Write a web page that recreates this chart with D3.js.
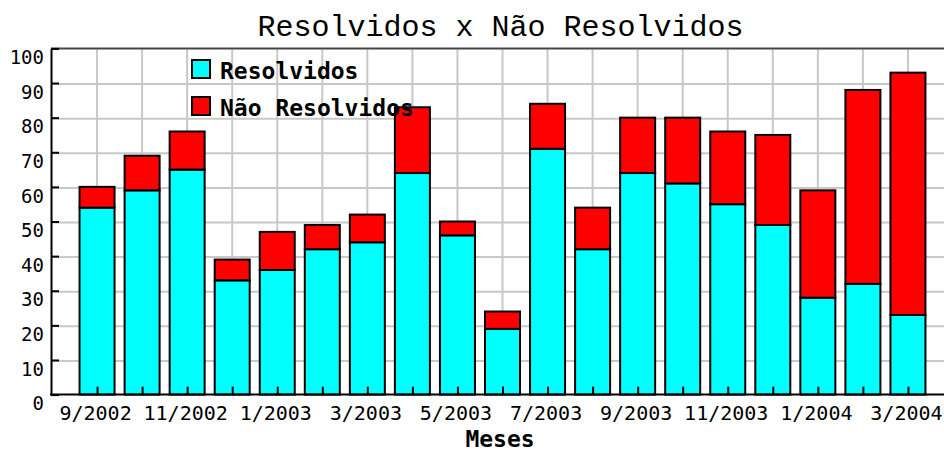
<!DOCTYPE html>
<html>
<head>
<meta charset="utf-8">
<script src="https://cdn.jsdelivr.net/npm/d3@7"></script>
<style>
  body { margin: 0; background: #fff; }
  svg { display: block; }
  text { font-family: 'DejaVu Sans Mono', monospace; fill: #000; }
</style>
</head>
<body>
<svg id="chart" width="944" height="451"></svg>
<script>
const meses = ['9/2002', '10/2002', '11/2002', '12/2002', '1/2003', '2/2003', '3/2003', '4/2003',
  '5/2003', '6/2003', '7/2003', '8/2003', '9/2003', '10/2003', '11/2003', '12/2003',
  '1/2004', '2/2004', '3/2004']
const resolvidos = [54, 59, 65, 33, 36, 42, 44, 64, 46, 19, 71, 42, 64, 61, 55, 49, 28, 32, 23]
const naoResolvidos = [6, 10, 11, 6, 11, 7, 8, 19, 4, 5, 13, 12, 16, 19, 21, 26, 31, 56, 70]
const yTicks = [0, 10, 20, 30, 40, 50, 60, 70, 80, 90, 100]

const legenda = [
  { label: 'Resolvidos', cor: '#00ffff' },
  { label: 'Não Resolvidos', cor: '#ff0000' }
]

const plot = { left: 51, right: 953, top: 49.4, bottom: 395.6 }

const svg = d3.select('#chart')

const x = d3.scalePoint()
  .domain(meses)
  .range([plot.left + 1, plot.right])
  .padding(1)

const y = d3.scaleLinear()
  .domain([0, 100])
  .range([plot.bottom, plot.top])

const barW = 35

// grid
svg.append('g')
  .selectAll('line')
  .data(yTicks.filter(d => d > 0 && d < 100))
  .enter()
  .append('line')
  .attr('x1', plot.left)
  .attr('x2', 944)
  .attr('y1', d => y(d))
  .attr('y2', d => y(d))
  .attr('stroke', '#c8c8c8')
  .attr('stroke-width', 2)

svg.append('g')
  .selectAll('line')
  .data(meses)
  .enter()
  .append('line')
  .attr('x1', d => x(d))
  .attr('x2', d => x(d))
  .attr('y1', plot.top)
  .attr('y2', plot.bottom)
  .attr('stroke', '#c8c8c8')
  .attr('stroke-width', 2)

// top frame
svg.append('line')
  .attr('x1', plot.left)
  .attr('x2', 944)
  .attr('y1', y(100) - 1)
  .attr('y2', y(100) - 1)
  .attr('stroke', '#444')
  .attr('stroke-width', 2)

// stacked bars
const stack = meses.map((m, i) => ({ mes: m, r: resolvidos[i], n: naoResolvidos[i] }))

const bars = svg.append('g')
  .selectAll('g')
  .data(stack)
  .enter()
  .append('g')

bars.append('rect')
  .attr('x', d => x(d.mes) - barW / 2)
  .attr('y', d => y(d.r) - 1)
  .attr('width', barW)
  .attr('height', d => y(0) - y(d.r))
  .attr('fill', '#00ffff')
  .attr('stroke', '#000')
  .attr('stroke-width', 2)

bars.append('rect')
  .attr('x', d => x(d.mes) - barW / 2)
  .attr('y', d => y(d.r + d.n) - 1)
  .attr('width', barW)
  .attr('height', d => y(d.r) - y(d.r + d.n))
  .attr('fill', '#ff0000')
  .attr('stroke', '#000')
  .attr('stroke-width', 2)

// axes
const yAxis = svg.append('g')
  .attr('transform', `translate(${plot.left},-1)`)
  .call(d3.axisLeft(y).tickValues(yTicks).tickSize(-8).tickSizeOuter(0).tickPadding(7))

yAxis.select('.domain').attr('stroke', '#000').attr('stroke-width', 2)
yAxis.selectAll('.tick line').attr('stroke', '#000').attr('stroke-width', 2)
yAxis.selectAll('.tick text')
  .attr('dy', '0.8em')
  .style('font-family', "'DejaVu Sans Mono', monospace")
  .style('font-size', '19px')
  .attr('fill', '#222')

const xAxis = svg.append('g')
  .attr('transform', `translate(0,${plot.bottom - 1})`)
  .call(d3.axisBottom(x).tickSize(-8).tickPadding(11)
    .tickFormat((d, i) => i % 2 === 0 ? d : ''))

xAxis.select('.domain').remove()
xAxis.selectAll('.tick line').attr('stroke', '#000').attr('stroke-width', 2)
xAxis.selectAll('.tick text')
  .attr('dx', -2)
  .style('font-family', "'DejaVu Sans Mono', monospace")
  .style('font-size', '20px')
  .attr('fill', '#222')

svg.append('line')
  .attr('x1', plot.left - 1)
  .attr('x2', 944)
  .attr('y1', plot.bottom - 1)
  .attr('y2', plot.bottom - 1)
  .attr('stroke', '#000')
  .attr('stroke-width', 2)

// titles
svg.append('text')
  .attr('x', 500.5)
  .attr('y', 36)
  .attr('text-anchor', 'middle')
  .style('font-family', "'Liberation Mono', monospace")
  .style('font-size', '30px')
  .text('Resolvidos x Não Resolvidos')

svg.append('text')
  .attr('x', 500)
  .attr('y', 447)
  .attr('text-anchor', 'middle')
  .style('font-size', '23px')
  .style('font-weight', 'bold')
  .text('Meses')

// legend
const leg = svg.append('g')
  .selectAll('g')
  .data(legenda)
  .enter()
  .append('g')
  .attr('transform', (d, i) => `translate(192,${60 + i * 37})`)

leg.append('rect')
  .attr('width', 18)
  .attr('height', 18)
  .attr('fill', d => d.cor)
  .attr('stroke', '#000')
  .attr('stroke-width', 2)

leg.append('text')
  .attr('x', 28)
  .attr('y', 19)
  .style('font-size', '23px')
  .style('font-weight', 'bold')
  .text(d => d.label)
</script>
</body>
</html>
